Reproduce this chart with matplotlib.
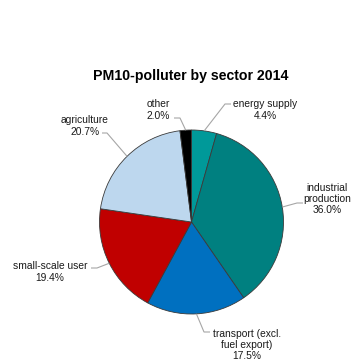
import numpy as np
import matplotlib
matplotlib.use("Agg")
import matplotlib.pyplot as plt

plt.rcParams['font.family'] = ['Liberation Sans', 'DejaVu Sans']

# Sector shares of PM10 emissions, 2014 (percent), clockwise from 12 o'clock
sectors = ["energy supply", "industrial\nproduction", "transport (excl.\nfuel export)",
           "small-scale user", "agriculture", "other"]
shares = [4.4, 36.0, 17.5, 19.4, 20.7, 2.0]
colors = ["#009999", "#008080", "#0070C0", "#C00000", "#BDD7EE", "#000000"]
title = "PM10-polluter by sector 2014"

W, H = 353, 363
fig = plt.figure(figsize=(W / 100, H / 100), dpi=100)
ax = fig.add_axes([0, 0, 1, 1])

cx, cy, r = 191.5, 222.0, 92.0          # pie centre / radius in pixel units (y from top)
wedges, _ = ax.pie(shares, colors=colors, startangle=90, counterclock=False,
                   center=(cx, H - cy), radius=r,
                   wedgeprops=dict(edgecolor="#3a3a3a", linewidth=0.6))
ax.set_xlim(0, W)
ax.set_ylim(0, H)
ax.set_aspect("equal")
ax.axis("off")

# label placement: text centre, leader elbow, leader end (pixel units, y from top)
layout = [
    ((265, 110), (225, 104), (231, 104)),
    ((327, 199), (297, 203), (303, 203)),
    ((247, 345), (204, 332), (210, 332)),
    ((50, 272), (97, 268), (91, 268)),
    ((85, 126), (107, 133), (102, 133)),
    ((158, 110), (180, 118), (174, 118)),
]

for w, name, val, (tpos, elbow, end) in zip(wedges, sectors, shares, layout):
    mid = np.deg2rad((w.theta1 + w.theta2) / 2)
    ex, ey = w.center[0] + r * np.cos(mid), w.center[1] + r * np.sin(mid)
    ax.plot([ex, elbow[0], end[0]], [ey, H - elbow[1], H - end[1]],
            color="#A6A6A6", linewidth=0.8, solid_capstyle="butt")
    ax.text(tpos[0], H - tpos[1], f"{name}\n{val:.1f}%", ha="center", va="center",
            fontsize=7.4, color="#1a1a1a", linespacing=1.15)

ax.text(191, H - 76, title, ha="center", va="center", fontsize=10.2,
        fontweight="bold", color="#000000")

fig.savefig("out.png", dpi=100)
